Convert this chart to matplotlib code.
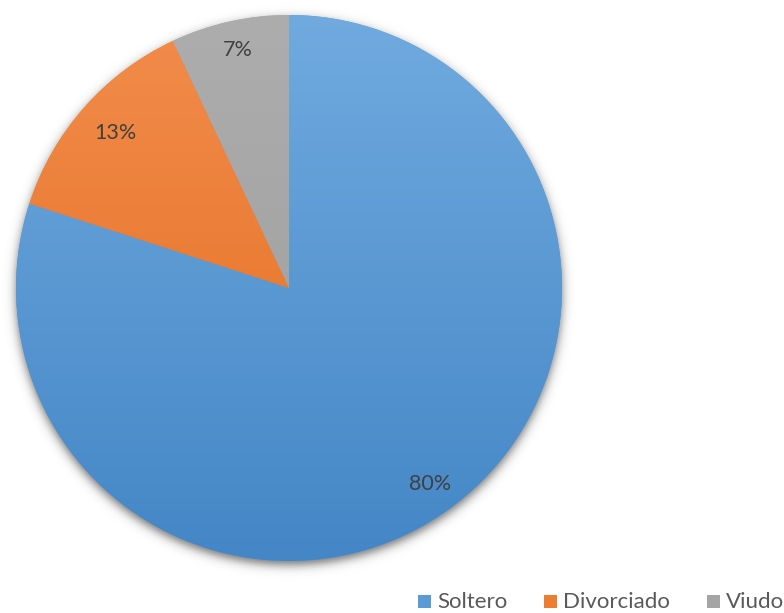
import numpy as np
import matplotlib
matplotlib.use("Agg")
import matplotlib.pyplot as plt
from matplotlib.colors import to_rgb

# Marital status breakdown
categories = ["Soltero", "Divorciado", "Viudo"]
shares = [80, 13, 7]
pct_labels = ["80%", "13%", "7%"]

base_colors = ["#5B9BD5", "#ED7D31", "#A5A5A5"]
top_colors = ["#70AADF", "#F28C4C", "#ADADAD"]
bottom_colors = ["#4486C6", "#E36C1C", "#9C9C9C"]

W, H = 784, 613
fig = plt.figure(figsize=(W / 100, H / 100), dpi=100)
ax = fig.add_axes([0, 0, 1, 1])

cx, cy, R = 289.0, H - 288.0, 273.0

# soft drop shadow under the pie
yy, xx = np.mgrid[0:H, 0:W] + 0.5
d = np.hypot(xx - cx, (H - yy) - (cy - 4))
alpha = 0.55 / (1 + np.exp((d - R) / 3.0))
shadow = np.zeros((H, W, 4))
shadow[..., 3] = alpha
ax.imshow(shadow, extent=(0, W, 0, H), origin="upper", zorder=0, interpolation="bilinear")

wedges, texts = ax.pie(
    shares,
    startangle=90,
    counterclock=False,
    center=(cx, cy),
    radius=R,
    colors=base_colors,
    wedgeprops=dict(linewidth=0),
    frame=True,
)

# vertical gradient fill clipped to each wedge
t = np.linspace(0, 1, 256)[:, None]
for w, c0, c1 in zip(wedges, top_colors, bottom_colors):
    a, b = np.array(to_rgb(c0)), np.array(to_rgb(c1))
    grad = (a[None, None, :] * (1 - t[..., None]) + b[None, None, :] * t[..., None])
    grad = np.repeat(grad, 2, axis=1)
    im = ax.imshow(grad, extent=(cx - R, cx + R, cy - R, cy + R), origin="upper",
                   zorder=2, interpolation="bilinear", aspect="auto")
    im.set_clip_path(w)
    w.set_zorder(1)

# percentage labels inside slices
label_pos = [(430, H - 484), (115, H - 133), (238, H - 50)]
for (x, y), s in zip(label_pos, pct_labels):
    ax.text(x, y, s, ha="center", va="center", fontsize=15.5, color="#404040",
            family="Lato", zorder=5)

# legend along the bottom
legend_items = [(418, 437), (544, 563), (707, 726)]
for (sx, tx), name, col in zip(legend_items, categories, base_colors):
    ax.add_patch(plt.Rectangle((sx, H - 608), 13, 13, facecolor=col, edgecolor="none", zorder=5))
    ax.text(tx, H - 602, name, ha="left", va="center", fontsize=16, color="#595959",
            family="Lato", zorder=5)

ax.set_xlim(0, W)
ax.set_ylim(0, H)
ax.set_aspect("auto")
ax.axis("off")
fig.savefig("out.png", dpi=100)
